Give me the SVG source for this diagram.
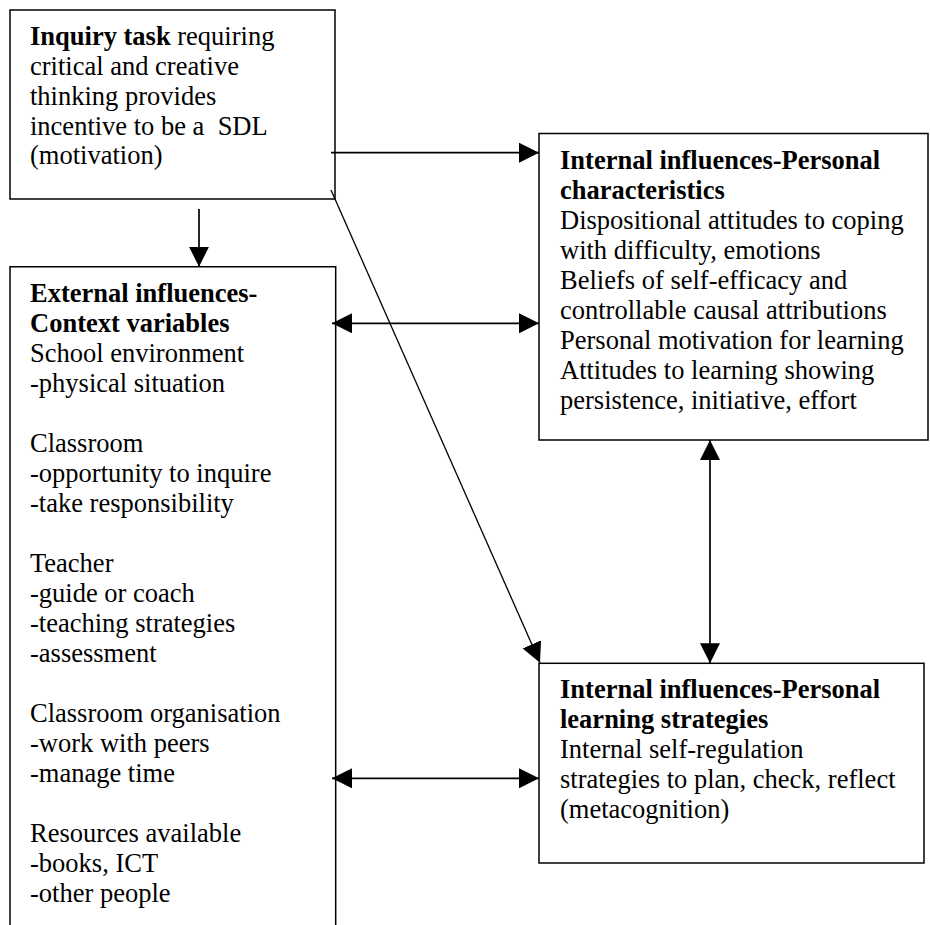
<svg xmlns="http://www.w3.org/2000/svg" width="930" height="925" viewBox="0 0 930 925">
<style>
.box{fill:#fff;stroke:#000;stroke-width:1.5}
.t{font-family:"Liberation Serif","Times New Roman",serif;font-size:26.5px;fill:#000;white-space:pre}
.b{font-weight:bold}
.c{stroke:#000;stroke-width:1.7;fill:none}
.d{stroke:#000;stroke-width:1.3;fill:none}
</style>
<defs>
<marker id="ah" markerUnits="userSpaceOnUse" markerWidth="20" markerHeight="20" refX="20" refY="10" orient="auto-start-reverse" viewBox="0 0 20 20">
<path d="M0,0 L20,10 L0,20 z" fill="#000"/>
</marker>
</defs>
<rect width="930" height="925" fill="#fff"/>
<g id="node-inquiry">
<rect class="box" x="10" y="10" width="325" height="189"/>
<text class="t" x="30" y="45"><tspan class="b">Inquiry task</tspan> requiring</text>
<text class="t" x="30" y="75">critical and creative</text>
<text class="t" x="30" y="105">thinking provides</text>
<text class="t" x="30" y="135">incentive to be a  SDL</text>
<text class="t" x="30" y="164">(motivation)</text>
</g>
<g id="node-external">
<path class="box" d="M10,940 L10,266.7 L335.7,266.7 L335.7,940"/>
<text class="t" x="30" y="301.7"><tspan class="b">External influences-</tspan></text>
<text class="t" x="30" y="331.7"><tspan class="b">Context variables</tspan></text>
<text class="t" x="30" y="361.7">School environment</text>
<text class="t" x="30" y="391.7">-physical situation</text>
<text class="t" x="30" y="451.7">Classroom</text>
<text class="t" x="30" y="481.7">-opportunity to inquire</text>
<text class="t" x="30" y="511.7">-take responsibility</text>
<text class="t" x="30" y="571.7">Teacher</text>
<text class="t" x="30" y="601.7">-guide or coach</text>
<text class="t" x="30" y="631.7">-teaching strategies</text>
<text class="t" x="30" y="661.7">-assessment</text>
<text class="t" x="30" y="721.7">Classroom organisation</text>
<text class="t" x="30" y="751.7">-work with peers</text>
<text class="t" x="30" y="781.7">-manage time</text>
<text class="t" x="30" y="841.7">Resources available</text>
<text class="t" x="30" y="871.7">-books, ICT</text>
<text class="t" x="30" y="901.7">-other people</text>
</g>
<g id="node-characteristics">
<rect class="box" x="539" y="133.5" width="389" height="306.5"/>
<text class="t" x="560" y="168.5"><tspan class="b">Internal influences-Personal</tspan></text>
<text class="t" x="560" y="198.5"><tspan class="b">characteristics</tspan></text>
<text class="t" x="560" y="228.5">Dispositional attitudes to coping</text>
<text class="t" x="560" y="258.5">with difficulty, emotions</text>
<text class="t" x="560" y="288.5">Beliefs of self-efficacy and</text>
<text class="t" x="560" y="318.5">controllable causal attributions</text>
<text class="t" x="560" y="348.5">Personal motivation for learning</text>
<text class="t" x="560" y="378.5">Attitudes to learning showing</text>
<text class="t" x="560" y="408.5">persistence, initiative, effort</text>
</g>
<g id="node-strategies">
<rect class="box" x="539" y="663.3" width="385" height="199.7"/>
<text class="t" x="560" y="698.3"><tspan class="b">Internal influences-Personal</tspan></text>
<text class="t" x="560" y="728.3"><tspan class="b">learning strategies</tspan></text>
<text class="t" x="560" y="758.3">Internal self-regulation</text>
<text class="t" x="560" y="788.3">strategies to plan, check, reflect</text>
<text class="t" x="560" y="818.3">(metacognition)</text>
</g>
<g id="connectors">
<line class="c" x1="331" y1="152.7" x2="539" y2="152.7" marker-end="url(#ah)"/>
<line class="c" x1="199" y1="209" x2="199" y2="266.7" marker-end="url(#ah)"/>
<line class="c" x1="332" y1="323.3" x2="539" y2="323.3" marker-start="url(#ah)" marker-end="url(#ah)"/>
<line class="c" x1="332" y1="778.3" x2="539" y2="778.3" marker-start="url(#ah)" marker-end="url(#ah)"/>
<line class="c" x1="710" y1="440" x2="710" y2="663.3" marker-start="url(#ah)" marker-end="url(#ah)"/>
<line class="d" x1="331" y1="190" x2="540" y2="662.7" marker-end="url(#ah)"/>
</g>
</svg>
